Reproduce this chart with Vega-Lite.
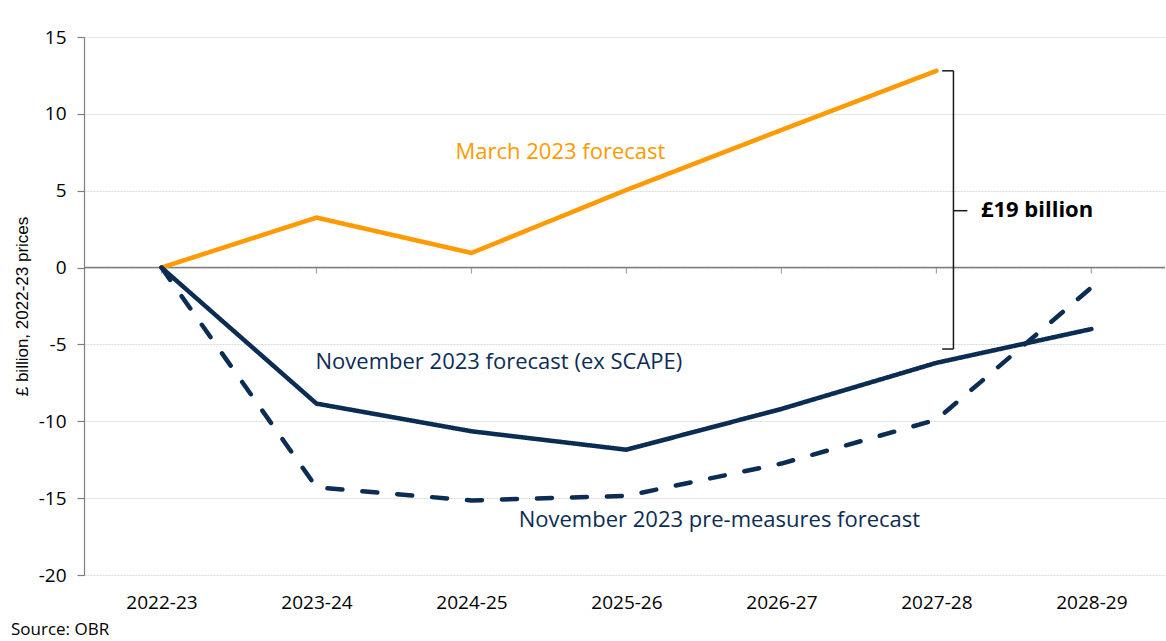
{
  "$schema": "https://vega.github.io/schema/vega-lite/v6.json",
  "width": 1081,
  "height": 538,
  "autosize": {"type": "none"},
  "padding": {"left": 84, "top": 37, "right": 1, "bottom": 66},
  "config": {"view": {"stroke": null}, "font": "Open Sans"},
  "title": {"text": "Source: OBR", "orient": "bottom", "anchor": "start", "frame": "group", "dx": -73, "offset": 10, "fontSize": 17, "fontWeight": "normal", "color": "#000000", "font": "Open Sans"},
  "datasets": {
    "lines": [
      {"series": "March 2023 forecast", "t": 0, "year": "2022-23", "v": 0},
      {"series": "March 2023 forecast", "t": 1, "year": "2023-24", "v": 3.25},
      {"series": "March 2023 forecast", "t": 2, "year": "2024-25", "v": 0.95},
      {"series": "March 2023 forecast", "t": 3, "year": "2025-26", "v": 5.05},
      {"series": "March 2023 forecast", "t": 4, "year": "2026-27", "v": 8.95},
      {"series": "March 2023 forecast", "t": 5, "year": "2027-28", "v": 12.8},
      {"series": "November 2023 pre-measures forecast", "t": 0, "year": "2022-23", "v": 0},
      {"series": "November 2023 pre-measures forecast", "t": 1, "year": "2023-24", "v": -14.3},
      {"series": "November 2023 pre-measures forecast", "t": 2, "year": "2024-25", "v": -15.15},
      {"series": "November 2023 pre-measures forecast", "t": 3, "year": "2025-26", "v": -14.85},
      {"series": "November 2023 pre-measures forecast", "t": 4, "year": "2026-27", "v": -12.75},
      {"series": "November 2023 pre-measures forecast", "t": 5, "year": "2027-28", "v": -9.9},
      {"series": "November 2023 pre-measures forecast", "t": 6, "year": "2028-29", "v": -1.3},
      {"series": "November 2023 forecast (ex SCAPE)", "t": 0, "year": "2022-23", "v": 0},
      {"series": "November 2023 forecast (ex SCAPE)", "t": 1, "year": "2023-24", "v": -8.85},
      {"series": "November 2023 forecast (ex SCAPE)", "t": 2, "year": "2024-25", "v": -10.65},
      {"series": "November 2023 forecast (ex SCAPE)", "t": 3, "year": "2025-26", "v": -11.85},
      {"series": "November 2023 forecast (ex SCAPE)", "t": 4, "year": "2026-27", "v": -9.2},
      {"series": "November 2023 forecast (ex SCAPE)", "t": 5, "year": "2027-28", "v": -6.2},
      {"series": "November 2023 forecast (ex SCAPE)", "t": 6, "year": "2028-29", "v": -4.0}
    ],
    "labels": [
      {"series": "March 2023 forecast", "t": 2.574, "v": 7.5},
      {"series": "November 2023 forecast (ex SCAPE)", "t": 2.177, "v": -6.15},
      {"series": "November 2023 pre-measures forecast", "t": 3.6, "v": -16.4}
    ],
    "zero": [{"t": -0.5, "t2": 6.475, "v": 0, "v2": 0}],
    "ticks": [
      {"t": 0, "v": 0}, {"t": 1, "v": 0}, {"t": 2, "v": 0}, {"t": 3, "v": 0},
      {"t": 4, "v": 0}, {"t": 5, "v": 0}, {"t": 6, "v": 0}
    ],
    "bracket": [
      {"t": 5.037, "t2": 5.11, "v": 12.8, "v2": 12.8},
      {"t": 5.11, "t2": 5.11, "v": 12.8, "v2": -5.3},
      {"t": 5.037, "t2": 5.11, "v": -5.3, "v2": -5.3},
      {"t": 5.11, "t2": 5.2, "v": 3.7, "v2": 3.7}
    ],
    "gap": [{"t": 5.287, "v": 3.75, "label": "£19 billion"}]
  },
  "encoding": {
    "x": {
      "field": "t", "type": "quantitative",
      "scale": {"domain": [-0.5, 6.475], "nice": false, "zero": false},
      "axis": {
        "values": [0, 1, 2, 3, 4, 5, 6],
        "labelExpr": "['2022-23','2023-24','2024-25','2025-26','2026-27','2027-28','2028-29'][datum.value]",
        "domain": false, "ticks": false, "grid": false,
        "labelFontSize": 19, "labelColor": "#000000", "labelPadding": 18,
        "labelFont": "Open Sans", "title": null
      }
    },
    "y": {
      "field": "v", "type": "quantitative",
      "scale": {"domain": [-20, 15], "nice": false},
      "axis": {
        "values": [-20, -15, -10, -5, 0, 5, 10, 15],
        "labelExpr": "datum.value < 0 ? '-' + abs(datum.value) : '' + datum.value",
        "grid": true, "gridColor": "#d9d9d9", "gridDash": [2, 1], "gridWidth": 1,
        "domainColor": "#7f7f7f", "domainWidth": 1.2,
        "tickColor": "#7f7f7f", "tickSize": 7, "tickWidth": 1.2,
        "labelFontSize": 19, "labelColor": "#000000", "labelPadding": 11,
        "labelFont": "Open Sans",
        "title": "£ billion, 2022-23 prices",
        "titleFont": "Liberation Sans", "titleFontSize": 17, "titleFontWeight": "normal",
        "titleColor": "#000000", "titleX": -62, "titleBaseline": "middle"
      }
    }
  },
  "layer": [
    {
      "data": {"name": "zero"},
      "mark": {"type": "rule", "color": "#7f7f7f", "strokeWidth": 1.5},
      "encoding": {"x2": {"field": "t2"}, "y2": {"field": "v2"}}
    },
    {
      "data": {"name": "ticks"},
      "mark": {"type": "tick", "orient": "vertical", "size": 6, "thickness": 1.2, "color": "#7f7f7f", "yOffset": 3}
    },
    {
      "data": {"name": "lines"},
      "mark": {"type": "line", "strokeWidth": 4.5, "strokeCap": "round", "strokeJoin": "round"},
      "encoding": {
        "color": {
          "field": "series", "type": "nominal",
          "scale": {
            "domain": ["March 2023 forecast", "November 2023 forecast (ex SCAPE)", "November 2023 pre-measures forecast"],
            "range": ["#ff9a00", "#0b2d54", "#0b2d54"]
          },
          "legend": null
        },
        "strokeDash": {
          "field": "series", "type": "nominal",
          "scale": {
            "domain": ["March 2023 forecast", "November 2023 forecast (ex SCAPE)", "November 2023 pre-measures forecast"],
            "range": [[1, 0], [1, 0], [15, 20]]
          },
          "legend": null
        }
      }
    },
    {
      "data": {"name": "labels"},
      "mark": {"type": "text", "fontSize": 22, "font": "Open Sans", "align": "center", "baseline": "middle"},
      "encoding": {
        "text": {"field": "series"},
        "color": {"field": "series", "type": "nominal", "legend": null}
      }
    },
    {
      "data": {"name": "bracket"},
      "mark": {"type": "rule", "color": "#1a1a1a", "strokeWidth": 1.5},
      "encoding": {"x2": {"field": "t2"}, "y2": {"field": "v2"}}
    },
    {
      "data": {"name": "gap"},
      "mark": {"type": "text", "fontSize": 22, "fontWeight": "bold", "font": "Open Sans", "align": "left", "baseline": "middle", "color": "#000000"},
      "encoding": {"text": {"field": "label"}}
    }
  ]
}
